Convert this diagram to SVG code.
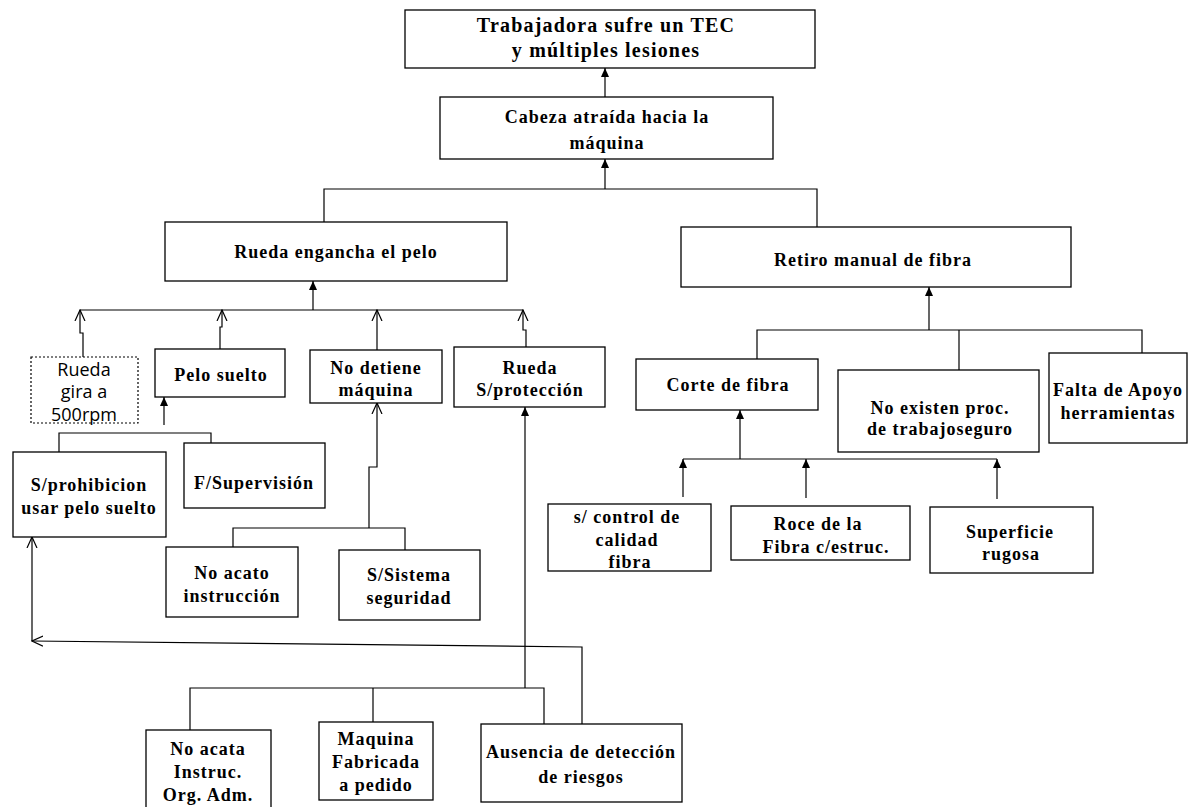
<svg xmlns="http://www.w3.org/2000/svg" width="1188" height="807" viewBox="0 0 1188 807">
<style>
.box{fill:#fff;stroke:#000;stroke-width:1.3}
.dot{fill:#fff;stroke:#000;stroke-width:1.2;stroke-dasharray:2 2}
.t{font-family:"Liberation Serif","Times New Roman",serif;font-weight:bold;font-size:18px;letter-spacing:1px;text-anchor:middle;fill:#000}
.big{font-size:20px;letter-spacing:1.2px}
.s{font-family:"Open Sans","Liberation Sans",sans-serif;font-size:18px;text-anchor:middle;fill:#000}
.c{fill:none;stroke:#000;stroke-width:1.2}
.fa{marker-end:url(#fa)}
.oa{marker-end:url(#oa)}
</style>
<defs>
<marker id="fa" viewBox="0 0 9 8" markerWidth="9" markerHeight="8" refX="9" refY="4" orient="auto" markerUnits="userSpaceOnUse"><path d="M0,0 L9,4 L0,8 z" fill="#000"/></marker>
<marker id="oa" viewBox="0 0 12 12" markerWidth="12" markerHeight="12" refX="11" refY="6" orient="auto" markerUnits="userSpaceOnUse"><path d="M0,1 L11,6 L0,11" fill="none" stroke="#000" stroke-width="1.2"/></marker>
</defs>
<rect width="1188" height="807" fill="#fff"/>
<g id="connectors">
<path class="c fa" d="M605,97 V68"/>
<path class="c fa" d="M605,189 V159"/>
<path class="c" d="M324,222 V189 H817 V227"/>
<path class="c fa" d="M313,310 V281"/>
<path class="c" d="M80,310 H523"/>
<path class="c oa" d="M83,357 V333 H80 V310"/>
<path class="c oa" d="M220,349 V327 H222 V310"/>
<path class="c oa" d="M377,350 V310"/>
<path class="c oa" d="M526,347 V330 H523 V310"/>
<path class="c fa" d="M164,425 V397"/>
<path class="c" d="M59,452 V433 H211 V443"/>
<path class="c oa" d="M369,528 V467 H377 V403"/>
<path class="c" d="M233,547 V528 H405 V550"/>
<path class="c oa" d="M32,641 V537"/>
<path class="c oa" d="M582,724 V647 L32,641"/>
<path class="c fa" d="M525,688 V407"/>
<path class="c" d="M190,730 V688 H544 V724"/>
<path class="c" d="M373,688 V722"/>
<path class="c fa" d="M929,330 V287"/>
<path class="c" d="M757,359 V330 H1142 V353"/>
<path class="c" d="M959,330 V370"/>
<path class="c fa" d="M740,459 V410"/>
<path class="c" d="M683,459 H997"/>
<path class="c fa" d="M683,497 V459"/>
<path class="c fa" d="M806,498 V459"/>
<path class="c fa" d="M997,499 V459"/>
</g>
<g id="n1"><rect class="box" x="405" y="10" width="410" height="58"/><text class="t big" x="606" y="32">Trabajadora sufre un TEC</text><text class="t big" x="606" y="57">y múltiples lesiones</text></g>
<g id="n2"><rect class="box" x="440" y="97" width="333" height="62"/><text class="t" x="607" y="123">Cabeza atraída hacia la</text><text class="t" x="607" y="149">máquina</text></g>
<g id="n3"><rect class="box" x="165" y="222" width="342" height="59"/><text class="t" x="336" y="258">Rueda engancha el pelo</text></g>
<g id="n4"><rect class="box" x="681" y="227" width="390" height="60"/><text class="t" x="873" y="266">Retiro manual de fibra</text></g>
<g id="n5"><rect class="dot" x="31" y="357" width="107" height="66"/><text class="s" x="84" y="376">Rueda</text><text class="s" x="84" y="398">gira a</text><text class="s" x="84" y="421">500rpm</text></g>
<g id="n6"><rect class="box" x="155" y="349" width="130" height="48"/><text class="t" x="221" y="381">Pelo suelto</text></g>
<g id="n7"><rect class="box" x="310" y="350" width="132" height="53"/><text class="t" x="376" y="374">No detiene</text><text class="t" x="376" y="396">máquina</text></g>
<g id="n8"><rect class="box" x="454" y="347" width="151" height="60"/><text class="t" x="530" y="374">Rueda</text><text class="t" x="530" y="396">S/protección</text></g>
<g id="n9"><rect class="box" x="13" y="452" width="153" height="85"/><text class="t" x="89" y="491">S/prohibicion</text><text class="t" x="89" y="514">usar pelo suelto</text></g>
<g id="n10"><rect class="box" x="184" y="443" width="141" height="65"/><text class="t" x="254" y="489">F/Supervisión</text></g>
<g id="n11"><rect class="box" x="166" y="547" width="132" height="70"/><text class="t" x="232" y="579">No acato</text><text class="t" x="232" y="602">instrucción</text></g>
<g id="n12"><rect class="box" x="339" y="550" width="141" height="70"/><text class="t" x="409" y="581">S/Sistema</text><text class="t" x="409" y="604">seguridad</text></g>
<g id="n13"><rect class="box" x="146" y="730" width="125" height="90"/><text class="t" x="208" y="755">No acata</text><text class="t" x="208" y="778">Instruc.</text><text class="t" x="208" y="801">Org. Adm.</text></g>
<g id="n14"><rect class="box" x="319" y="722" width="114" height="78"/><text class="t" x="376" y="745">Maquina</text><text class="t" x="376" y="768">Fabricada</text><text class="t" x="376" y="791">a pedido</text></g>
<g id="n15"><rect class="box" x="481" y="724" width="201" height="78"/><text class="t" x="581" y="758">Ausencia de detección</text><text class="t" x="581" y="783">de riesgos</text></g>
<g id="n16"><rect class="box" x="636" y="359" width="182" height="51"/><text class="t" x="728" y="391">Corte de fibra</text></g>
<g id="n17"><rect class="box" x="838" y="370" width="201" height="82"/><text class="t" x="940" y="414">No existen proc.</text><text class="t" x="940" y="435">de trabajoseguro</text></g>
<g id="n18"><rect class="box" x="1049" y="353" width="138" height="90"/><text class="t" x="1118" y="396">Falta de Apoyo</text><text class="t" x="1118" y="419">herramientas</text></g>
<g id="n19"><rect class="box" x="548" y="504" width="163" height="67"/><text class="t" x="627" y="523">s/ control de</text><text class="t" x="627" y="546">calidad</text><text class="t" x="630" y="568">fibra</text></g>
<g id="n20"><rect class="box" x="731" y="506" width="179" height="54"/><text class="t" x="818" y="530">Roce de la</text><text class="t" x="826" y="553">Fibra c/estruc.</text></g>
<g id="n21"><rect class="box" x="930" y="507" width="163" height="66"/><text class="t" x="1010" y="538">Superficie</text><text class="t" x="1011" y="560">rugosa</text></g>
</svg>
